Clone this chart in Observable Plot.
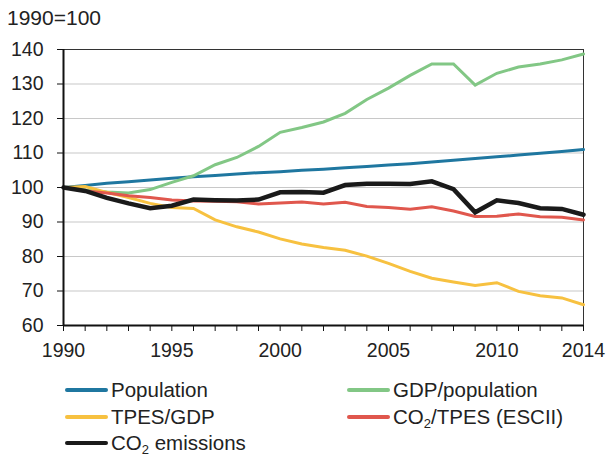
<!DOCTYPE html>
<html>
<head>
<meta charset="utf-8">
<script src="https://cdn.jsdelivr.net/npm/d3@7"></script>
<script src="https://cdn.jsdelivr.net/npm/@observablehq/plot@0.6"></script>
<style>
  body { margin: 0; background: #fff; font-family: "Liberation Sans", Arial, sans-serif; }
  #title { height: 30px; font-size: 21px; line-height: 21px; padding: 6.5px 0 0 7px; box-sizing: border-box; color: #222; }
  #legend { display: grid; grid-template-columns: 282px 260px; padding: 11.75px 0 0 65px; font-size: 20.5px; color: #222; }
  .item { height: 26.5px; display: flex; align-items: center; white-space: nowrap; }
  .sw { width: 43px; height: 4px; margin-right: 3px; border-radius: 2px; flex: none; }
  sub { font-size: 13px; vertical-align: -4px; line-height: 0; }
</style>
</head>
<body>
<div id="title">1990=100</div>
<div id="chart"></div>
<div id="legend"></div>
<script>
const years = d3.range(1990, 2015);
const seriesNames = ["Population", "GDP/population", "TPES/GDP", "CO2/TPES (ESCII)", "CO2 emissions"];
const seriesLabels = ["Population", "GDP/population", "TPES/GDP", "CO<sub>2</sub>/TPES (ESCII)", "CO<sub>2</sub> emissions"];
const seriesColors = ["#1f77a0", "#82c785", "#f7c140", "#e0574d", "#1a1a1a"];
const seriesWidths = [3, 3, 3, 3, 4.5];

const population = [100, 100.6, 101.2, 101.7, 102.2, 102.7, 103.1, 103.5, 103.9, 104.3, 104.6, 105.0, 105.3, 105.7, 106.1, 106.5, 106.9, 107.4, 107.9, 108.4, 108.9, 109.4, 109.9, 110.4, 111.0];
const gdpPop = [100, 99.3, 98.7, 98.4, 99.4, 101.5, 103.4, 106.6, 108.7, 111.9, 116.0, 117.4, 119.0, 121.5, 125.5, 128.8, 132.5, 135.8, 135.8, 129.7, 133.1, 134.9, 135.8, 137.0, 138.7];
const tpesGdp = [100, 100.3, 98.6, 97.1, 95.4, 94.2, 93.9, 90.6, 88.6, 87.1, 85.1, 83.6, 82.6, 81.8, 80.1, 78.0, 75.7, 73.7, 72.6, 71.6, 72.4, 69.9, 68.6, 68.0, 66.0];
const co2Tpes = [100, 99.0, 98.4, 97.6, 97.1, 96.4, 96.1, 96.0, 95.9, 95.2, 95.5, 95.8, 95.2, 95.7, 94.5, 94.2, 93.7, 94.4, 93.2, 91.6, 91.7, 92.3, 91.5, 91.4, 90.6];
const co2Emissions = [100, 99.0, 97.0, 95.4, 94.0, 94.7, 96.5, 96.3, 96.2, 96.5, 98.6, 98.7, 98.5, 100.7, 101.1, 101.1, 101.0, 101.8, 99.5, 92.8, 96.3, 95.5, 94.0, 93.8, 92.1];

const yTicks = [60, 70, 80, 90, 100, 110, 120, 130, 140];
const xLabelTicks = [1990, 1995, 2000, 2005, 2010, 2014];

const allSeries = [population, gdpPop, tpesGdp, co2Tpes, co2Emissions];
const rows = allSeries.flatMap((vals, i) => vals.map((v, j) => ({year: years[j], value: v, series: seriesNames[i], idx: i})));

const chart = Plot.plot({
  width: 608,
  height: 335,
  marginTop: 19,
  marginBottom: 40,
  marginLeft: 63,
  marginRight: 25,
  style: {fontFamily: "'Liberation Sans', Arial, sans-serif", fontSize: "19.5px", color: "#222", background: "#fff"},
  x: {domain: [1990, 2014]},
  y: {domain: [60, 140]},
  color: {domain: seriesNames, range: seriesColors},
  marks: [
    Plot.gridY(yTicks.filter(d => d > 60 && d < 140), {stroke: "#c8c8c8", strokeOpacity: 1, strokeWidth: 1.2}),
    Plot.frame({stroke: "#333", strokeWidth: 1}),
    ...seriesNames.map((name, i) =>
      Plot.line(rows.filter(r => r.idx === i), {x: "year", y: "value", stroke: "series", strokeWidth: seriesWidths[i], strokeLinejoin: "miter", strokeMiterlimit: 3})
    ),
    Plot.ruleX([1990], {stroke: "#111", strokeWidth: 2}),
    Plot.ruleY([60], {stroke: "#111", strokeWidth: 2}),
    Plot.axisY(yTicks, {tickSize: 6, tickPadding: 14, label: null, stroke: "#111", fill: "#222", fontSize: 19.5}),
    Plot.axisX(years, {tickSize: 6, tickFormat: () => "", label: null, stroke: "#111"}),
    Plot.axisX(xLabelTicks, {tickSize: 0, tickPadding: 18, tickFormat: d => String(d), label: null, fill: "#222", fontSize: 19.5})
  ]
});
document.getElementById("chart").appendChild(chart);

const legend = document.getElementById("legend");
seriesNames.forEach((name, i) => {
  const item = document.createElement("div");
  item.className = "item";
  item.innerHTML = `<span class="sw" style="background:${seriesColors[i]}"></span><span>${seriesLabels[i]}</span>`;
  legend.appendChild(item);
});
</script>
</body>
</html>
